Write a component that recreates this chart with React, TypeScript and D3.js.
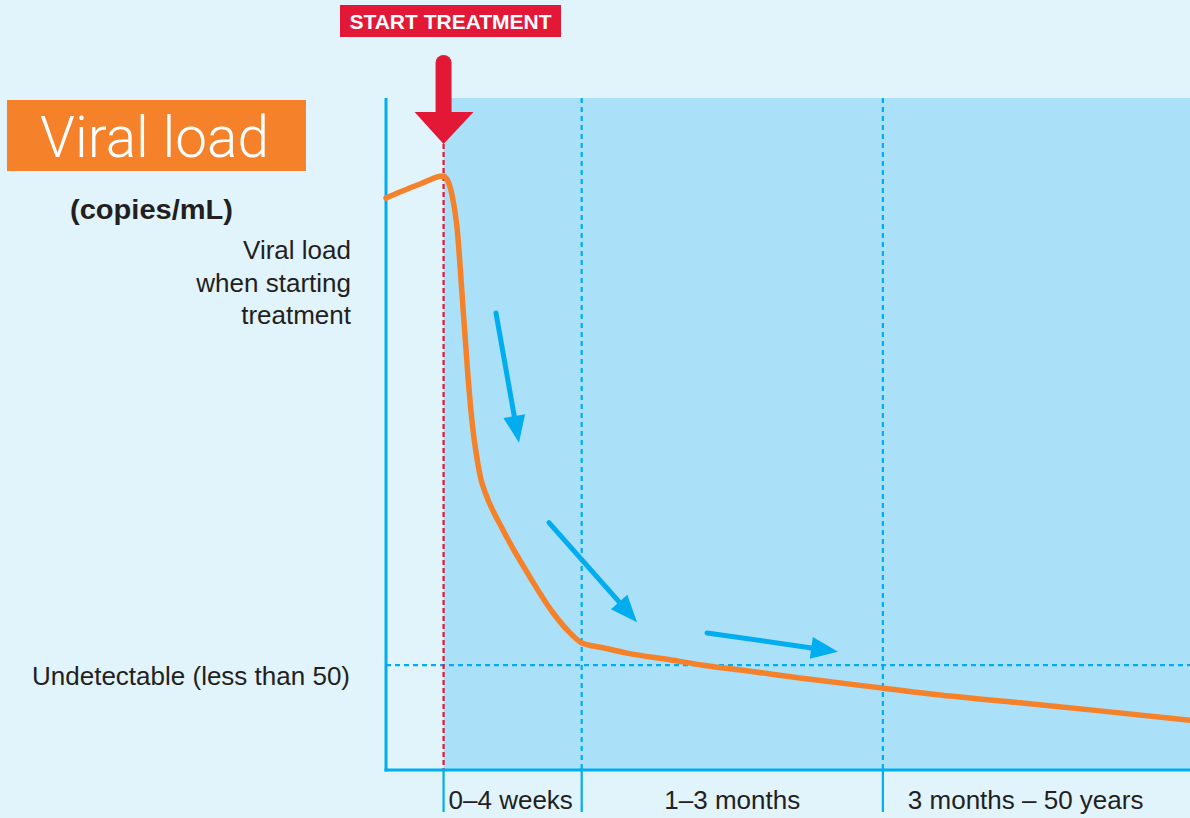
import React from 'react';
import * as d3 from 'd3';

// Curve of viral load (abstract units: time 0–100 across the plot, load 0–100 up the plot)
const curveTime = [0, 1.74, 4.23, 7.09, 7.59, 8.21, 8.83, 9.45, 10.2, 10.82, 11.32, 11.82, 12.31, 14.55, 17.91, 20.77, 22.89, 24.38, 26.99, 29.98, 35.32, 39.43, 45.27, 51.49, 61.69, 70.15, 78.86, 88.81, 100];
const curveLoad = [85.1, 86.0, 87.2, 88.4, 87.9, 85.6, 80.8, 71.0, 58.5, 50.6, 46.4, 43.2, 41.4, 35.7, 28.7, 23.4, 20.4, 18.9, 18.2, 17.4, 16.4, 15.6, 14.7, 13.7, 12.2, 11.0, 10.0, 8.8, 7.4];

// Phase boundaries: treatment start, 1 month, 3 months
const phaseBounds = [7.16, 24.34, 61.8];
const phaseLabels = ['0–4 weeks', '1–3 months', '3 months – 50 years'];
const undetectableLevel = 15.6;

// Trend arrows (start -> tip) in data units
const arrowStartT = [13.68, 20.27, 39.93];
const arrowStartL = [68.0, 36.8, 20.4];
const arrowTipT = [16.54, 31.22, 56.22];
const arrowTipL = [48.7, 22.0, 17.6];

const leftLabelLines = ['Viral load', 'when starting', 'treatment'];

const BG = '#e1f3fb';
const SHADE = '#abe0f9';
const BLUE = '#00aeef';
const RED = '#e31837';
const ORANGE = '#f5822a';
const TEXT = '#231f20';
const FONT = '"Liberation Sans", Arial, Helvetica, sans-serif';

export default function App() {
  const W = 1190, H = 818;
  const x = d3.scaleLinear().domain([0, 100]).range([386, 1190]);
  const y = d3.scaleLinear().domain([0, 100]).range([770, 98]);

  const pts: [number, number][] = curveTime.map((t, i) => [t, curveLoad[i]]);
  const line = d3.line<[number, number]>()
    .x(d => x(d[0]))
    .y(d => y(d[1]))
    .curve(d3.curveMonotoneX);

  const tx = x(phaseBounds[0]);

  const arrows = arrowStartT.map((t, i) => {
    const x0 = x(t), y0 = y(arrowStartL[i]);
    const x1 = x(arrowTipT[i]), y1 = y(arrowTipL[i]);
    const dx = x1 - x0, dy = y1 - y0;
    const len = Math.hypot(dx, dy);
    const ux = dx / len, uy = dy / len;
    const hl = 27, hw = 11;
    const bx = x1 - ux * hl, by = y1 - uy * hl;
    const head = [
      [x1, y1],
      [bx - uy * hw, by + ux * hw],
      [bx + uy * hw, by - ux * hw],
    ].map(p => p.join(',')).join(' ');
    return { x0, y0, sx: x1 - ux * (hl - 2), sy: y1 - uy * (hl - 2), head };
  });

  return (
    <div style={{ position: 'absolute', left: 0, top: 0, width: W, height: H }}>
      <svg width={W} height={H} style={{ display: 'block' }}>
        <rect x={0} y={0} width={W} height={H} fill={BG} />

        {/* shaded treatment region */}
        <rect x={tx} y={y(100)} width={x(100) - tx} height={y(0) - y(100)} fill={SHADE} />

        {/* undetectable threshold */}
        <line x1={x(0)} x2={x(100)} y1={y(undetectableLevel)} y2={y(undetectableLevel)}
          stroke={BLUE} strokeWidth={2.2} strokeDasharray="5 4" />

        {/* phase dashed verticals */}
        {phaseBounds.slice(1).map((b, i) => (
          <line key={i} x1={x(b)} x2={x(b)} y1={y(100)} y2={y(0)}
            stroke={BLUE} strokeWidth={2.2} strokeDasharray="5 4" />
        ))}

        {/* treatment dotted line */}
        <line x1={tx} x2={tx} y1={144} y2={y(0)} stroke={RED} strokeWidth={2.2} strokeDasharray="5 3" />

        {/* axes */}
        <line x1={x(0)} x2={x(0)} y1={y(100)} y2={y(0) + 1.5} stroke={BLUE} strokeWidth={3} />
        <line x1={x(0) - 1.5} x2={x(100)} y1={y(0)} y2={y(0)} stroke={BLUE} strokeWidth={3} />

        {/* ticks below axis */}
        {phaseBounds.map((b, i) => (
          <line key={i} x1={x(b)} x2={x(b)} y1={y(0)} y2={812} stroke={BLUE} strokeWidth={2.2} />
        ))}

        {/* phase labels */}
        <text x={x(phaseBounds[0]) + 5} y={809} fontFamily={FONT} fontSize={26} fill={TEXT}>{phaseLabels[0]}</text>
        <text x={(x(phaseBounds[1]) + x(phaseBounds[2])) / 2} y={809} textAnchor="middle" fontFamily={FONT} fontSize={26} fill={TEXT}>{phaseLabels[1]}</text>
        <text x={x(phaseBounds[2]) + 25} y={809} fontFamily={FONT} fontSize={26} fill={TEXT}>{phaseLabels[2]}</text>

        {/* trend arrows */}
        {arrows.map((a, i) => (
          <g key={i}>
            <line x1={a.x0} y1={a.y0} x2={a.sx} y2={a.sy} stroke={BLUE} strokeWidth={5} strokeLinecap="round" />
            <polygon points={a.head} fill={BLUE} />
          </g>
        ))}

        {/* viral load curve */}
        <path d={line(pts) || ''} fill="none" stroke={ORANGE} strokeWidth={5.5} strokeLinejoin="round" strokeLinecap="round" />

        {/* start treatment arrow */}
        <line x1={tx} x2={tx} y1={63} y2={114} stroke={RED} strokeWidth={16} strokeLinecap="round" />
        <polygon points={`${tx - 29},112 ${tx + 30},112 ${tx},144`} fill={RED} />

        {/* start treatment label */}
        <rect x={340} y={5} width={221} height={32} fill={RED} />
        <text x={450.5} y={29} textAnchor="middle" fontFamily={FONT} fontWeight="bold" fontSize={21} fill="#fff">START TREATMENT</text>

        {/* title box */}
        <rect x={7} y={100} width={299} height={71} fill="#f5822a" />
        <text x={40} y={157} fontFamily="Roboto, 'Liberation Sans', sans-serif" fontWeight={300} fontSize={57} fill="#fff"
          textLength={229} lengthAdjust="spacingAndGlyphs">Viral load</text>

        <text x={70} y={219} fontFamily={FONT} fontWeight="bold" fontSize={27} fill={TEXT}
          textLength={163} lengthAdjust="spacingAndGlyphs">(copies/mL)</text>

        {leftLabelLines.map((s, i) => (
          <text key={i} x={351} y={259 + i * 32.5} textAnchor="end" fontFamily={FONT} fontSize={26} fill={TEXT}>{s}</text>
        ))}

        <text x={350} y={685} textAnchor="end" fontFamily={FONT} fontSize={26} fill={TEXT}>Undetectable (less than 50)</text>
      </svg>
    </div>
  );
}
